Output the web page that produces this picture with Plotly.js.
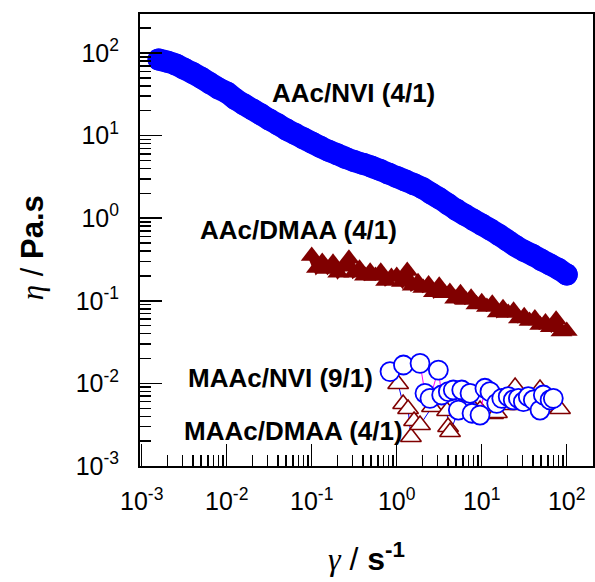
<!DOCTYPE html>
<html>
<head>
<meta charset="utf-8">
<script src="https://cdn.plot.ly/plotly-3.0.1.min.js"></script>
<style>
  html, body { margin: 0; padding: 0; background: #fff; }
  #chart { width: 595px; height: 582px; }
  /* round joins keep the wide sweep line free of miter spikes */
  #chart .scatterlayer .trace:first-child path.js-line { stroke-linejoin: round; stroke-linecap: round; }
</style>
</head>
<body>
<div id="chart"></div>
<script>
// Shear-rate sweeps: viscosity (Pa.s) vs shear rate (1/s)

// AAc/NVI (4/1)
const aacNviRate = [0.00158, 0.002, 0.00251, 0.00316, 0.00398, 0.00501, 0.00631, 0.00794,
  0.01, 0.0126, 0.0158, 0.02, 0.0251, 0.0316, 0.0398, 0.0501, 0.0631, 0.0794,
  0.1, 0.126, 0.158, 0.2, 0.251, 0.316, 0.398, 0.501, 0.631, 0.794,
  1, 1.26, 1.58, 2, 2.51, 3.16, 3.98, 5.01, 6.31, 7.94,
  10, 12.6, 15.8, 20, 25.1, 31.6, 39.8, 50.1, 63.1, 79.4, 100];
const aacNviVisc = [83.4, 78.5, 72.6, 64.4, 57.3, 50.1, 43.3, 37.4,
  33.3, 27.7, 24.0, 20.8, 18.1, 15.7, 13.7, 11.9, 10.5, 9.31,
  8.24, 7.31, 6.55, 5.94, 5.37, 4.92, 4.56, 4.22, 3.85, 3.48,
  3.16, 2.86, 2.59, 2.32, 2.01, 1.74, 1.49, 1.27, 1.10, 0.96,
  0.836, 0.729, 0.632, 0.539, 0.46, 0.402, 0.358, 0.313, 0.277, 0.244, 0.208];

// AAc/DMAA (4/1)
const aacDmaaRate = [0.1, 0.115, 0.133, 0.154, 0.178, 0.205, 0.237, 0.274, 0.316, 0.365,
  0.422, 0.487, 0.562, 0.649, 0.75, 0.866, 1.0, 1.15, 1.33, 1.54,
  1.78, 2.05, 2.37, 2.74, 3.16, 3.65, 4.22, 4.87, 5.62, 6.49,
  7.5, 8.66, 10.0, 11.5, 13.3, 15.4, 17.8, 20.5, 23.7, 27.4,
  31.6, 36.5, 42.2, 48.7, 56.2, 64.9, 75.0, 86.6, 100];
const aacDmaaVisc = [0.349, 0.249, 0.295, 0.243, 0.288, 0.218, 0.258, 0.322, 0.218, 0.244,
  0.201, 0.224, 0.200, 0.224, 0.174, 0.194, 0.200, 0.169, 0.230, 0.152,
  0.168, 0.143, 0.158, 0.127, 0.152, 0.123, 0.128, 0.106, 0.123, 0.102,
  0.109, 0.0902, 0.0959, 0.0841, 0.0922, 0.0722, 0.0813, 0.0712, 0.0757, 0.0611,
  0.0649, 0.0571, 0.0612, 0.0509, 0.0546, 0.0480, 0.0590, 0.0426, 0.0431];

// MAAc/NVI (9/1)
const maacNviRate = [0.834, 1.20, 1.88, 2.15, 2.46, 3.09, 3.38, 4.05, 4.63, 5.31,
  5.82, 7.28, 7.69, 9.55, 10.9, 12.5, 15.0, 17.2, 20.5, 23.5,
  27.0, 30.9, 35.3, 40.5, 48.5, 53.1, 63.7, 69.5];
const maacNviVisc = [0.0139, 0.0167, 0.0175, 0.00759, 0.0066, 0.0145, 0.00724, 0.00794, 0.00832, 0.00476,
  0.00832, 0.00759, 0.00435, 0.00414, 0.00873, 0.00794, 0.00574, 0.0066, 0.0069, 0.0063,
  0.0066, 0.0060, 0.0069, 0.0063, 0.00476, 0.00724, 0.0063, 0.0066];

// MAAc/DMAA (4/1)
const maacDmaaRate = [1.04, 1.19, 1.36, 1.47, 1.60, 1.88, 2.60, 3.91, 4.02, 4.24,
  5.56, 7.28, 9.55, 13.6, 15.1, 18.8, 24.7, 28.2, 35.1, 48.5,
  55.6, 72.8, 83.4];
const maacDmaaVisc = [0.00984, 0.00563, 0.0049, 0.00224, 0.00351, 0.00313, 0.00518, 0.00463, 0.00297, 0.00258,
  0.00518, 0.00563, 0.00476, 0.00426, 0.00438, 0.00547, 0.00904, 0.00547, 0.00563, 0.00855,
  0.00547, 0.00518, 0.0049];

// Axis decorations
const majorVals = [0.001, 0.01, 0.1, 1, 10, 100];
const majorText = ['10<sup>-3</sup>', '10<sup>-2</sup>', '10<sup>-1</sup>',
  '10<sup>0</sup>', '10<sup>1</sup>', '10<sup>2</sup>'];
const minorDigits = [2, 3, 4, 5, 6, 7, 8, 9];
const decades = [0.001, 0.01, 0.1, 1, 10, 100];

const minorVals = [];
decades.forEach(d => minorDigits.forEach(m => minorVals.push(d * m)));

const SANS = 'Liberation Sans, Arial, sans-serif';
const MAROON = '#800000';
const BLUE = '#0000ff';

const traces = [
  {
    // dense sweep: a wide line under the discs keeps the band continuous
    x: aacNviRate, y: aacNviVisc, type: 'scatter', mode: 'lines+markers', name: 'AAc/NVI (4/1)',
    line: { color: BLUE, width: 22, shape: 'spline', smoothing: 1 },
    marker: { symbol: 'circle', size: 22, color: BLUE, line: { width: 0 } }
  },
  {
    x: aacDmaaRate, y: aacDmaaVisc, type: 'scatter', mode: 'lines+markers', name: 'AAc/DMAA (4/1)',
    line: { color: MAROON, width: 8 },
    marker: { symbol: 'triangle-up', size: 19, color: MAROON, line: { width: 0 } }
  },
  {
    x: maacDmaaRate, y: maacDmaaVisc, type: 'scatter', mode: 'lines+markers', name: 'MAAc/DMAA (4/1)',
    line: { color: BLUE, width: 1 },
    marker: { symbol: 'triangle-up', size: 18, color: '#ffffff', line: { color: MAROON, width: 1.6 } }
  },
  {
    x: maacNviRate, y: maacNviVisc, type: 'scatter', mode: 'lines+markers', name: 'MAAc/NVI (9/1)',
    line: { color: '#ff00ff', width: 1 },
    marker: { symbol: 'circle', size: 19, color: '#ffffff', line: { color: BLUE, width: 1.8 } }
  }
];

const axisCommon = {
  type: 'log',
  showgrid: false,
  zeroline: false,
  showline: true,
  linecolor: '#000',
  linewidth: 2,
  mirror: true,
  ticks: 'inside',
  ticklen: 22,
  tickwidth: 1.5,
  tickcolor: '#000',
  tickmode: 'array',
  tickvals: majorVals,
  ticktext: majorText,
  tickfont: { family: SANS, size: 25, color: '#000' },
  minor: { tickmode: 'array', tickvals: minorVals, ticks: 'inside', ticklen: 11, tickwidth: 1.5, tickcolor: '#000' }
};

const layout = {
  width: 595,
  height: 582,
  margin: { l: 140, r: 2, t: 14, b: 116 },
  paper_bgcolor: '#fff',
  plot_bgcolor: '#fff',
  showlegend: false,
  xaxis: Object.assign({}, axisCommon, { range: [-3.02, 2.309], ticklabelstandoff: 12 }),
  yaxis: Object.assign({}, axisCommon, { range: [-3, 2.472], ticklabelstandoff: 14 }),
  annotations: [
    { xref: 'paper', yref: 'paper', x: 0.4724, y: 0.825, xanchor: 'center', yanchor: 'middle', showarrow: false,
      text: '<b>AAc/NVI (4/1)</b>', font: { family: SANS, size: 26, color: '#000' } },
    { xref: 'paper', yref: 'paper', x: 0.35, y: 0.523, xanchor: 'center', yanchor: 'middle', showarrow: false,
      text: '<b>AAc/DMAA (4/1)</b>', font: { family: SANS, size: 26, color: '#000' } },
    { xref: 'paper', yref: 'paper', x: 0.3108, y: 0.1947, xanchor: 'center', yanchor: 'middle', showarrow: false,
      text: '<b>MAAc/NVI (9/1)</b>', font: { family: SANS, size: 26, color: '#000' } },
    { xref: 'paper', yref: 'paper', x: 0.3385, y: 0.0774, xanchor: 'center', yanchor: 'middle', showarrow: false,
      text: '<b>MAAc/DMAA (4/1)</b>', font: { family: SANS, size: 26, color: '#000' } },
    // axis titles
    { xref: 'paper', yref: 'paper', x: 0.499, y: -0.2013, xanchor: 'center', yanchor: 'middle', showarrow: false,
      text: '<span style="font-family:Liberation Serif"><i>γ</i></span> / <b>s<sup>-1</sup></b>',
      font: { family: SANS, size: 32, color: '#000' } },
    { xref: 'paper', yref: 'paper', x: -0.2384, y: 0.482, xanchor: 'center', yanchor: 'middle', showarrow: false,
      textangle: -90,
      text: '<span style="font-family:Liberation Serif"><i>η</i></span> / <b>Pa.s</b>',
      font: { family: SANS, size: 31, color: '#000' } }
  ]
};

Plotly.newPlot('chart', traces, layout, { displayModeBar: false, staticPlot: true });
</script>
</body>
</html>
